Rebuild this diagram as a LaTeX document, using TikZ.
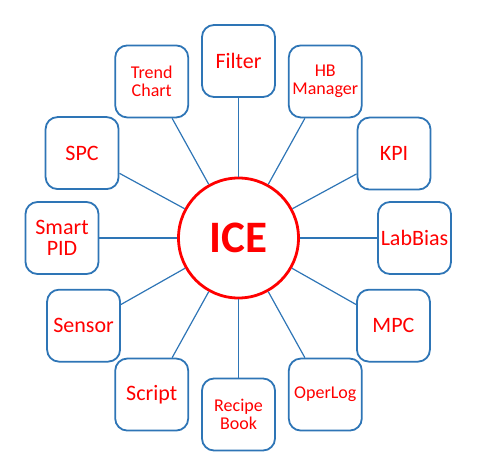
\documentclass[tikz,border=0pt]{standalone}
\usepackage{fontspec}
\setmainfont{Carlito}
\usepackage{tikz}
\usetikzlibrary{positioning,calc,shapes}
\usepackage{xcolor}
\definecolor{iceblue}{RGB}{46,117,182}
\definecolor{icered}{RGB}{255,0,0}

\begin{document}
\begin{tikzpicture}[x=1pt, y=1pt,
  module/.style={rectangle, rounded corners=12pt, draw=iceblue, line width=1.8pt, fill=white,
    minimum width=73pt, minimum height=72pt, text=icered, align=center, inner sep=1pt},
  big/.style={font=\fontsize{22}{20.5}\selectfont},
  small/.style={font=\fontsize{18}{17.5}\selectfont},
  link/.style={draw=iceblue, line width=1.2pt}]
  \useasboundingbox (-238.5,-236) rectangle (239.5,238);

  \node (ice) [circle, draw=icered, line width=2.8pt, fill=white, minimum size=120pt, text=icered,
    font=\fontsize{45}{50}\selectfont\bfseries] at (0,0) {ICE};

  \node (filter)   [module, big]   at (90:177pt)   {Filter};
  \node (hb)       [module, small] at (61:179pt)   {HB\\Manager};
  \node (kpi)      [module, big]   at (28.5:177pt) {KPI};
  \node (labbias)  [module, big]   at (0:176pt)    {LabBias};
  \node (mpc)      [module, big]   at (-29.5:178pt) {MPC};
  \node (operlog)  [module, small] at (-61:179pt)  {OperLog};
  \node (recipe)   [module, small] at (-90:176.5pt) {Recipe\\Book};
  \node (script)   [module, big]   at (-119:179pt) {Script};
  \node (sensor)   [module, big]   at (-150.5:178pt) {Sensor};
  \node (smartpid) [module, big]   at (180:176.5pt) {Smart\\PID};
  \node (spc)      [module, big]   at (151.5:178pt) {SPC};
  \node (trend)    [module, small] at (119:179pt)  {Trend\\Chart};

  \draw[link] (ice) -- (filter);
  \draw[link] (ice) -- (hb);
  \draw[link] (ice) -- (kpi);
  \draw[link] (ice) -- (labbias);
  \draw[link] (ice) -- (mpc);
  \draw[link] (ice) -- (operlog);
  \draw[link] (ice) -- (recipe);
  \draw[link] (ice) -- (script);
  \draw[link] (ice) -- (sensor);
  \draw[link] (ice) -- (smartpid);
  \draw[link] (ice) -- (spc);
  \draw[link] (ice) -- (trend);
\end{tikzpicture}
\end{document}
